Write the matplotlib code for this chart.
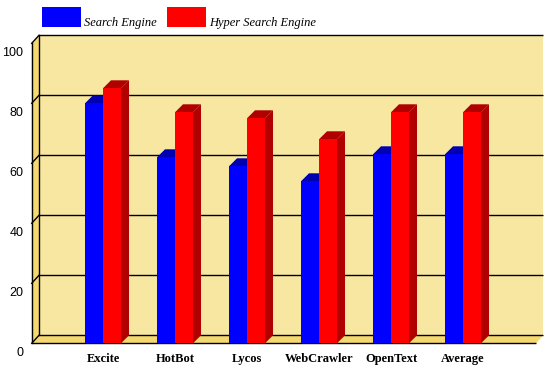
import matplotlib
matplotlib.use("Agg")
import matplotlib.pyplot as plt
from matplotlib.patches import Polygon, Rectangle

categories = ['Excite', 'HotBot', 'Lycos', 'WebCrawler', 'OpenText', 'Average']
search_engine = [80, 62, 59, 54, 63, 63]
hyper_search_engine = [85, 77, 75, 68, 77, 77]
series_names = ['Search Engine', 'Hyper Search Engine']
yticks = [0, 20, 40, 60, 80, 100]

W, H, DPI = 554, 377, 100
fig = plt.figure(figsize=(W / DPI, H / DPI), dpi=DPI)
fig.patch.set_facecolor('white')

# front plane of the plot in pixels (top-origin)
left_px, right_px, bottom_px, top_px = 31.7, 536.0, 343.3, 43.3
ax = fig.add_axes([left_px / W, 1 - bottom_px / H,
                   (right_px - left_px) / W, (bottom_px - top_px) / H])
ax.axis('off')
group_px = 72.0
first_center_px = 103.0
x0 = -(first_center_px - left_px) / group_px
x1 = x0 + (right_px - left_px) / group_px
ax.set_xlim(x0, x1)
ax.set_ylim(0, 100)

# pixel -> data unit conversions
ux = (x1 - x0) / (right_px - left_px)
uy = 100.0 / (bottom_px - top_px)

wall_dx, wall_dy = 7.3 * ux, 8 * uy
bar_dx, bar_dy = 8 * ux, 8 * uy
bar_w = 18 * ux

wall_col = '#F7E7A1'
side_col = '#F5D870'

def poly(pts, color, z):
    ax.add_patch(Polygon(pts, closed=True, facecolor=color, edgecolor='none',
                         zorder=z, clip_on=False))

# back wall
poly([(x0 + wall_dx, wall_dy), (x1 + wall_dx, wall_dy),
      (x1 + wall_dx, 100 + wall_dy), (x0 + wall_dx, 100 + wall_dy)], wall_col, 0)
# left wall
poly([(x0, 0), (x0 + wall_dx, wall_dy), (x0 + wall_dx, 100 + wall_dy), (x0, 100)], side_col, 0)
# floor
poly([(x0, 0), (x1, 0), (x1 + wall_dx, wall_dy), (x0 + wall_dx, wall_dy)], side_col, 0)

lw = 1.0
for v in yticks:
    ax.plot([x0 + wall_dx, x1 + wall_dx], [v + wall_dy, v + wall_dy], color='black',
            lw=lw, zorder=1, clip_on=False, solid_capstyle='butt')
    ax.plot([x0, x0 + wall_dx], [v, v + wall_dy], color='black', lw=lw, zorder=1,
            clip_on=False)
ax.plot([x0, x0], [0, 100], color='black', lw=lw, zorder=1, clip_on=False)
ax.plot([x0 + wall_dx, x0 + wall_dx], [wall_dy, 100 + wall_dy], color='black', lw=lw,
        zorder=1, clip_on=False)
ax.plot([x0, x1], [0, 0], color='black', lw=lw, zorder=1, clip_on=False,
        solid_capstyle='butt')

def bar3d(xl, val, front, top, side, z):
    ax.bar(xl, val, width=bar_w, align='edge', color=front, zorder=z + 0.2,
           linewidth=0, clip_on=False)
    poly([(xl, val), (xl + bar_w, val), (xl + bar_w + bar_dx, val + bar_dy),
          (xl + bar_dx, val + bar_dy)], top, z)
    poly([(xl + bar_w, 0), (xl + bar_w + bar_dx, bar_dy),
          (xl + bar_w + bar_dx, val + bar_dy), (xl + bar_w, val)], side, z)

for i, (a, b) in enumerate(zip(search_engine, hyper_search_engine)):
    bar3d(i - bar_w, a, '#0000FF', '#0000B0', '#0000A0', 2 + i)
    bar3d(i, b, '#FF0000', '#B00000', '#B00000', 2.5 + i)

# y tick labels
for v in yticks:
    ax.text(x0 - 8.5 * ux, v - 10 * uy, str(v), ha='right', va='center',
            fontsize=9, family='Liberation Sans', clip_on=False)

# category labels
for i, c in enumerate(categories):
    ax.text(i, -16 * uy, c, ha='center', va='center', fontsize=9,
            family='Liberation Serif', fontweight='bold', clip_on=False)

# legend
def fpx(x, y):
    return x / W, 1 - y / H

legend_cols = ['#0000FF', '#FF0000']
legend_x = [42, 167]
for name, col, lx in zip(series_names, legend_cols, legend_x):
    fx, fy = fpx(lx, 27)
    fig.add_artist(Rectangle((fx, fy), 39 / W, 20 / H, transform=fig.transFigure,
                             facecolor=col, edgecolor='none'))
    tx, ty = fpx(lx + 42, 26)
    fig.text(tx, ty, name, ha='left', va='baseline', fontsize=9,
             family='Liberation Serif', style='italic')

fig.savefig('out.png', dpi=DPI, facecolor='white')
